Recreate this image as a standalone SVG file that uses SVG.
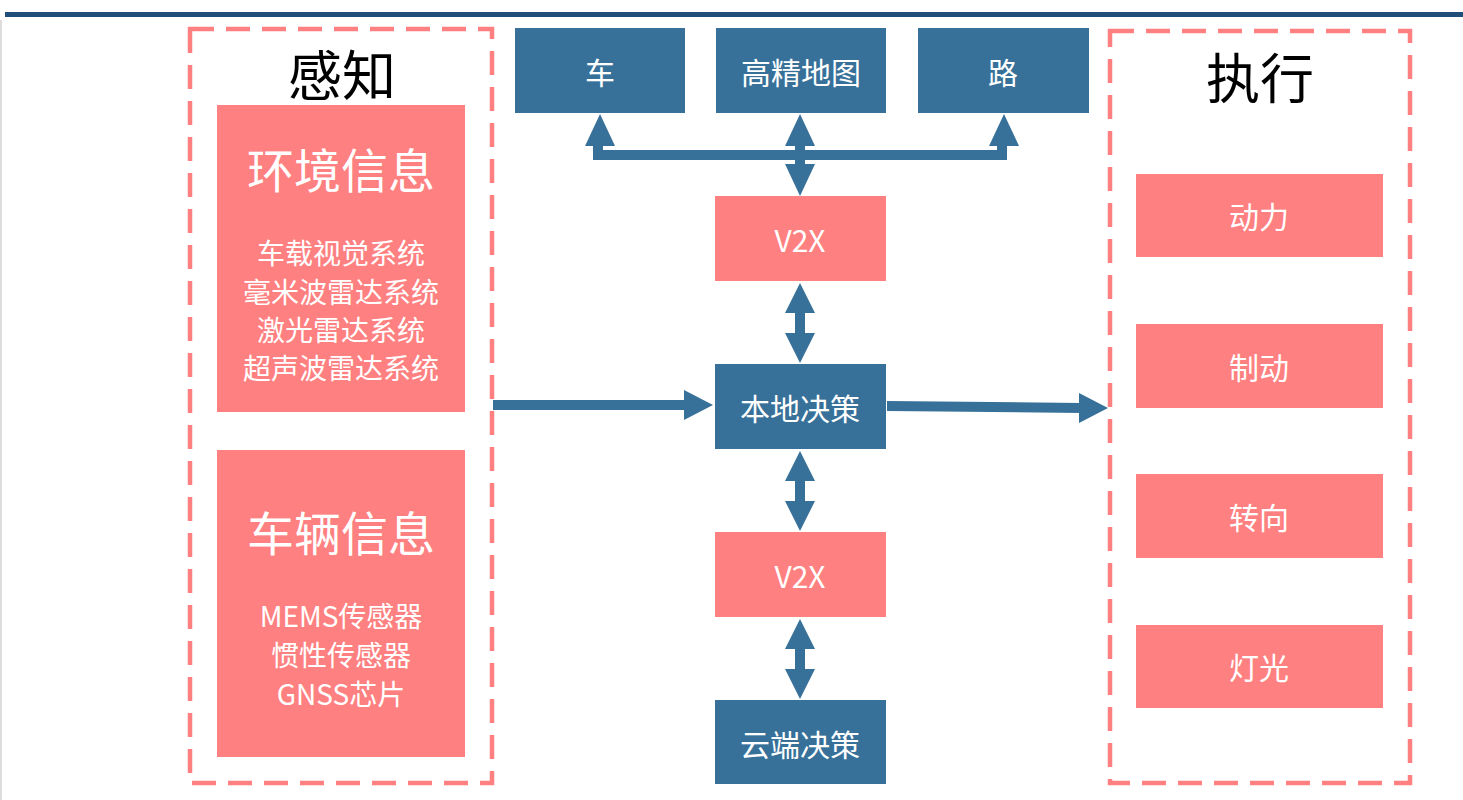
<svg xmlns="http://www.w3.org/2000/svg" width="1463" height="800" viewBox="0 0 1463 800">
<style>
.dash{fill:none;stroke:#FF8080;stroke-width:4.5;stroke-dasharray:24 12}
.pk{fill:#FF8080}
.bl{fill:#377199}
.t{font-family:"Noto Sans CJK SC","Noto Sans",sans-serif;fill:#fff;text-anchor:middle;dominant-baseline:central}
.h{font-family:"Noto Sans CJK SC",sans-serif;fill:#000;text-anchor:middle;dominant-baseline:central;font-size:54px}
.a{fill:#377199}
</style>
<rect width="1463" height="800" fill="#fff"/>
<rect x="5" y="12" width="1458" height="5" fill="#1F4E79"/>
<line x1="1" y1="20" x2="1" y2="800" stroke="#ddd" stroke-width="2"/>
<g id="perception">
<rect class="dash" x="190" y="29" width="302" height="754"/>
<text class="h" x="342" y="72">感知</text>
</g>
<g id="env"><rect class="pk" x="217" y="105" width="248" height="307"/>
<text class="t" x="341" y="167" font-size="47">环境信息</text>
<text class="t" x="341" y="252" font-size="28">车载视觉系统</text>
<text class="t" x="341" y="291" font-size="28">毫米波雷达系统</text>
<text class="t" x="341" y="329" font-size="28">激光雷达系统</text>
<text class="t" x="341" y="367" font-size="28">超声波雷达系统</text></g>
<g id="veh"><rect class="pk" x="217" y="450" width="248" height="307"/>
<text class="t" x="341" y="530" font-size="47">车辆信息</text>
<text class="t" x="341" y="615" font-size="28">MEMS传感器</text>
<text class="t" x="341" y="654" font-size="28">惯性传感器</text>
<text class="t" x="341" y="693" font-size="28">GNSS芯片</text></g>
<g id="execution">
<rect class="dash" x="1110" y="31" width="300" height="752"/>
<text class="h" x="1260" y="75">执行</text>
</g>
<g id="n_car"><rect class="bl" x="515" y="28" width="170" height="85"/><text class="t" x="600" y="71" font-size="30">车</text></g>
<g id="n_map"><rect class="bl" x="716" y="28" width="170" height="85"/><text class="t" x="801" y="71" font-size="30">高精地图</text></g>
<g id="n_road"><rect class="bl" x="918" y="28" width="171" height="85"/><text class="t" x="1003" y="71" font-size="30">路</text></g>
<g id="n_v2x1"><rect class="pk" x="715" y="196" width="171" height="85"/><text class="t" x="800" y="239" font-size="30">V2X</text></g>
<g id="n_local"><rect class="bl" x="715" y="364" width="171" height="85"/><text class="t" x="800" y="407" font-size="30">本地决策</text></g>
<g id="n_v2x2"><rect class="pk" x="715" y="532" width="171" height="85"/><text class="t" x="800" y="575" font-size="30">V2X</text></g>
<g id="n_cloud"><rect class="bl" x="715" y="700" width="171" height="84"/><text class="t" x="800" y="743" font-size="30">云端决策</text></g>
<g id="n_power"><rect class="pk" x="1136" y="174" width="247" height="83"/><text class="t" x="1259" y="215" font-size="30">动力</text></g>
<g id="n_brake"><rect class="pk" x="1136" y="324" width="247" height="84"/><text class="t" x="1259" y="366" font-size="30">制动</text></g>
<g id="n_steer"><rect class="pk" x="1136" y="474" width="247" height="84"/><text class="t" x="1259" y="516" font-size="30">转向</text></g>
<g id="n_light"><rect class="pk" x="1136" y="625" width="247" height="83"/><text class="t" x="1259" y="666" font-size="30">灯光</text></g>
<g id="connectors">
<rect class="a" x="593" y="150" width="414" height="10"/>
<rect class="a" x="593" y="140" width="10" height="20"/>
<rect class="a" x="997" y="140" width="10" height="20"/>
<polygon class="a" points="600,114 615,146 585,146"/>
<polygon class="a" points="1004,114 1019,146 989,146"/>
<polygon class="a" points="800,114 815,146 785,146"/>
<rect class="a" x="795" y="140" width="10" height="30"/>
<polygon class="a" points="800,196 815,164 785,164"/>
<g><rect class="a" x="795" y="300" width="10" height="45"/><polygon class="a" points="800,283 815,313 785,313"/><polygon class="a" points="800,363 815,333 785,333"/></g>
<g><rect class="a" x="795" y="468" width="10" height="45"/><polygon class="a" points="800,451 815,481 785,481"/><polygon class="a" points="800,531 815,501 785,501"/></g>
<g><rect class="a" x="795" y="636" width="10" height="45"/><polygon class="a" points="800,619 815,649 785,649"/><polygon class="a" points="800,699 815,669 785,669"/></g>
<rect class="a" x="493" y="400" width="195" height="10"/>
<polygon class="a" points="713,405 684,390 684,420"/>
<polygon class="a" points="887,401 1082,403 1082,413 887,411"/>
<polygon class="a" points="1108,408 1079,393 1079,423"/>
</g>
</svg>
